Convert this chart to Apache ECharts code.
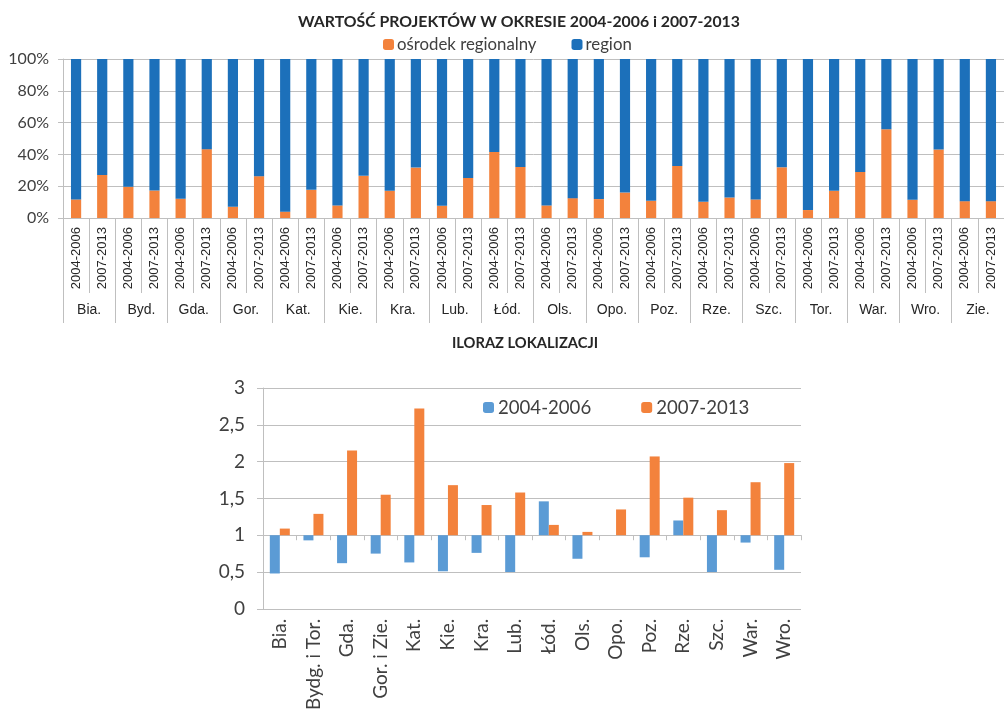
<!DOCTYPE html>
<html>
<head>
<meta charset="utf-8">
<script src="https://cdn.jsdelivr.net/npm/echarts@6/dist/echarts.min.js"></script>
<style>
  html, body { margin: 0; padding: 0; background: #fff; }
  #chart { width: 1004px; height: 713px; }
</style>
</head>
<body>
<div id="chart"></div>
<script>
// top chart: share of the regional centre (%), per city and period
var periods = ['2004-2006', '2007-2013']
var cities = ['Bia.', 'Byd.', 'Gda.', 'Gor.', 'Kat.', 'Kie.', 'Kra.', 'Lub.', 'Łód.',
  'Ols.', 'Opo.', 'Poz.', 'Rze.', 'Szc.', 'Tor.', 'War.', 'Wro.', 'Zie.']
var osrodek = [11.7, 27.1, 19.6, 17.3, 12.1, 43.3, 7.1, 26.3, 4.0, 17.7, 7.9, 26.5,
  17.1, 31.7, 7.7, 25.2, 41.5, 32.1, 7.9, 12.5, 11.9, 16.0, 10.8, 32.7,
  10.2, 12.9, 11.7, 31.9, 5.0, 17.1, 29.0, 55.8, 11.5, 43.1, 10.6, 10.6]

// bottom chart: location quotient
var lqCities = ['Bia.', 'Bydg. i Tor.', 'Gda.', 'Gor. i Zie.', 'Kat.', 'Kie.', 'Kra.', 'Lub.',
  'Łód.', 'Ols.', 'Opo.', 'Poz.', 'Rze.', 'Szc.', 'War.', 'Wro.']
var lq0406 = [0.48, 0.93, 0.62, 0.75, 0.63, 0.51, 0.76, 0.50, 1.46, 0.68, 1.00, 0.70, 1.20, 0.50, 0.90, 0.53]
var lq0713 = [1.09, 1.29, 2.15, 1.55, 2.72, 1.68, 1.41, 1.58, 1.14, 1.045, 1.35, 2.07, 1.51, 1.34, 1.72, 1.98]

var BASE = 1
var periodCats = []
cities.forEach(function() { periodCats.push(periods[0], periods[1]) })
var region = osrodek.map(function(v) { return +(100 - v).toFixed(1) })
var shift = function(v) { return +(v - BASE).toFixed(3) }

var gridColor = '#bfbfbf'
var txt = '#404040'
var fontC = 'Lato, "Open Sans", sans-serif'

var chart = echarts.init(document.getElementById('chart'))
chart.setOption({
  animation: false,
  textStyle: { fontFamily: fontC },
  title: [{
    text: 'WARTOŚĆ PROJEKTÓW W OKRESIE 2004-2006 i 2007-2013',
    left: 293, top: 9,
    textStyle: { fontSize: 15.8, fontWeight: 'bold', color: '#262626', fontFamily: fontC }
  }, {
    text: 'ILORAZ LOKALIZACJI',
    left: 447, top: 331,
    textStyle: { fontSize: 14.7, fontWeight: 'bold', color: '#262626', fontFamily: fontC }
  }],
  legend: [{
    data: ['ośrodek regionalny', 'region'],
    left: 378, top: 31,
    itemWidth: 11, itemHeight: 11, itemGap: 35,
    textStyle: { fontSize: 16.8, color: txt, padding: [0, 0, 0, -2] }
  }, {
    data: ['2004-2006', '2007-2013'],
    left: 478, top: 393,
    itemWidth: 11, itemHeight: 11, itemGap: 50,
    textStyle: { fontSize: 18.6, color: txt, padding: [0, 0, 0, -1] }
  }],
  grid: [
    { left: 63, top: 59, width: 947, height: 159 },
    { left: 263, top: 388, width: 538, height: 221 }
  ],
  xAxis: [{
    type: 'category', gridIndex: 0, data: periodCats,
    axisLine: { show: true, lineStyle: { color: gridColor } },
    axisTick: { show: true, interval: 0, length: 75, lineStyle: { color: gridColor } },
    axisLabel: { interval: 0, rotate: 90, margin: 9, fontSize: 13, color: '#262626', fontFamily: 'Liberation Sans, Arial' }
  }, {
    type: 'category', gridIndex: 0, data: cities, position: 'bottom',
    axisLine: { show: false },
    axisTick: { show: true, interval: 0, length: 105, lineStyle: { color: gridColor } },
    axisLabel: { interval: 0, margin: 85, fontSize: 14, color: '#262626', fontFamily: 'Liberation Sans, Arial' }
  }, {
    type: 'category', gridIndex: 1, data: lqCities,
    axisLine: { show: true, onZero: true, lineStyle: { color: gridColor } },
    axisTick: { show: true, interval: 0, length: 5, lineStyle: { color: gridColor } },
    axisLabel: { show: false }
  }, {
    type: 'category', gridIndex: 1, data: lqCities, position: 'bottom',
    axisLine: { show: false, onZero: false },
    axisTick: { show: false },
    axisLabel: { interval: 0, rotate: 90, margin: 10, fontSize: 19, color: txt }
  }],
  yAxis: [{
    type: 'value', gridIndex: 0, min: 0, max: 100, interval: 20,
    axisLine: { show: true, lineStyle: { color: gridColor } },
    axisTick: { show: true, length: 5, lineStyle: { color: gridColor } },
    splitLine: { lineStyle: { color: gridColor } },
    axisLabel: { formatter: '{value}%', fontSize: 16, color: txt, margin: 14 }
  }, {
    type: 'value', gridIndex: 1, min: -1, max: 2, interval: 0.5,
    axisLine: { show: true, lineStyle: { color: gridColor } },
    axisTick: { show: true, length: 6, lineStyle: { color: gridColor } },
    splitLine: { lineStyle: { color: gridColor } },
    axisLabel: {
      fontSize: 19, color: txt, margin: 18,
      formatter: function(v) { return String(+(v + BASE).toFixed(1)).replace('.', ',') }
    }
  }],
  series: [{
    name: 'ośrodek regionalny', type: 'bar', stack: 'a', xAxisIndex: 0, yAxisIndex: 0,
    data: osrodek, barCategoryGap: '61%', itemStyle: { color: '#f3823c' }
  }, {
    name: 'region', type: 'bar', stack: 'a', xAxisIndex: 0, yAxisIndex: 0,
    data: region, itemStyle: { color: '#1c70ba' }
  }, {
    name: '2004-2006', type: 'bar', xAxisIndex: 2, yAxisIndex: 1,
    data: lq0406.map(shift), barWidth: 10, barGap: '0%', itemStyle: { color: '#5b9bd5' }
  }, {
    name: '2007-2013', type: 'bar', xAxisIndex: 2, yAxisIndex: 1,
    data: lq0713.map(shift), barWidth: 10, barGap: '0%', itemStyle: { color: '#f3823c' }
  }]
})
</script>
</body>
</html>
